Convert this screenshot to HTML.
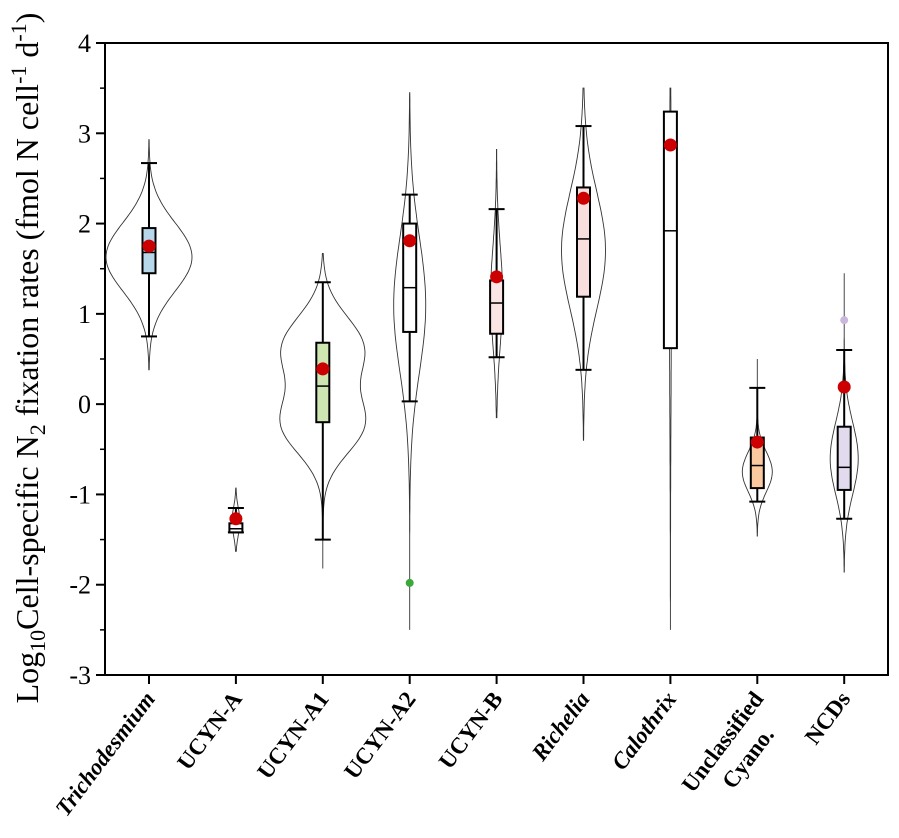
<!DOCTYPE html>
<html><head><meta charset="utf-8"><style>
body{margin:0;background:#fff}
svg text{font-family:"Liberation Serif",serif}
</style></head><body>
<svg id="c" width="899" height="833"></svg>
<script>
const categories=["Trichodesmium","UCYN-A","UCYN-A1","UCYN-A2","UCYN-B","Richelia","Calothrix","Unclassified|Cyano.","NCDs"];
const italic=[true,false,false,false,false,true,true,false,false];
const whiskLo=[0.75,-1.42,-1.5,0.03,0.52,0.38,null,-1.08,-1.27];
const whiskHi=[2.67,-1.15,1.35,2.32,2.16,3.08,null,0.18,0.6];
const q1=[1.45,-1.42,-0.2,0.8,0.78,1.19,0.62,-0.93,-0.95];
const q3=[1.95,-1.32,0.68,2.0,1.37,2.4,3.24,-0.37,-0.25];
const medians=[1.68,-1.38,0.2,1.29,1.12,1.83,1.92,-0.68,-0.7];
const means=[1.75,-1.27,0.39,1.81,1.41,2.28,2.87,-0.42,0.19];
const violinMin=[0.38,-1.63,-1.82,-2.5,-0.15,-0.4,-2.5,-1.46,-1.86];
const violinMax=[2.93,-0.93,1.67,3.45,2.82,3.5,3.5,0.5,1.45];
const violinCenters=[[1.63],[-1.3],[0.62,-0.22],[1.1],[1.2],[1.7],[1.5],[-0.75],[-0.6]];
const violinSigmas=[[0.38],[0.15],[0.35,0.33],[0.75],[0.55],[0.65],[1.5],[0.22],[0.4]];
const violinHalfWidth=[43,4,43,16,6,22,1,15,14];
const boxFill=["#b7d7ea","#ffffff","#cde6b2","#ffffff","#fbe4e4","#f9dede","#ffffff","#fbc9a0","#e2dbee"];
const outliers=[[3,-1.98,"#3aa83a"],[8,0.93,"#c9b8dc"]];
const yTicks=[-3,-2,-1,0,1,2,3,4];

const svg=document.getElementById('c');const NS="http://www.w3.org/2000/svg";
const L=105,R=888,T=43,B=675;
const y=v=>T+(4-v)*(B-T)/7;
const x=i=>149+i*86.9;
function mk(t,a,p){const e=document.createElementNS(NS,t);for(const k in a)e.setAttribute(k,a[k]);(p||svg).appendChild(e);return e;}

const fr=mk('rect',{x:L,y:T,width:R-L,height:B-T,fill:'none',stroke:'#000','stroke-width':2});


yTicks.forEach(v=>{
  const tk=mk('line',{x1:L-9,x2:L,y1:y(v),y2:y(v),stroke:'#000','stroke-width':2});
  
  
  if(v<4){const m=mk('line',{x1:L-5,x2:L,y1:y(v+0.5),y2:y(v+0.5),stroke:'#000','stroke-width':1.5});
  
  }
  const t=mk('text',{x:L-14,y:y(v)+9,'text-anchor':'end','font-size':26});t.textContent=v;
  
  
});
const yt=mk('text',{transform:'translate(38,358) rotate(-90)','text-anchor':'middle','font-size':32});
yt.innerHTML='Log<tspan font-size="22" dy="7">10</tspan><tspan dy="-7">Cell-specific N</tspan><tspan font-size="22" dy="7">2</tspan><tspan dy="-7"> fixation rates (fmol N cell</tspan><tspan font-size="22" dy="-12">-1</tspan><tspan dy="12"> d</tspan><tspan font-size="22" dy="-12">-1</tspan><tspan dy="12">)</tspan>';



categories.forEach((c,i)=>{
  const cx=x(i);
  const g=mk('g',{});
  
  
  mk('line',{x1:cx,x2:cx,y1:B,y2:B+9,stroke:'#000','stroke-width':2});
  const n=80,lo=violinMin[i],hi=violinMax[i];const dens=[];let mx=0;
  for(let k=0;k<=n;k++){const v=lo+(hi-lo)*k/n;let d=0;violinCenters[i].forEach((m,j)=>{const s=violinSigmas[i][j];d+=Math.exp(-0.5*((v-m)/s)**2);});dens.push([v,d]);if(d>mx)mx=d;}
  let pR=[],pL=[];
  dens.forEach(([v,d])=>{const w=violinHalfWidth[i]*d/mx;pR.push((cx+w).toFixed(1)+','+y(v).toFixed(1));pL.unshift((cx-w).toFixed(1)+','+y(v).toFixed(1));});
  mk('path',{d:'M'+pR.join('L')+'L'+pL.join('L')+'Z',fill:'none',stroke:'#333','stroke-width':0.9},g);
  if(whiskLo[i]!==null){
    mk('line',{x1:cx,x2:cx,y1:y(whiskLo[i]),y2:y(whiskHi[i]),stroke:'#000','stroke-width':2},g);
    [whiskLo[i],whiskHi[i]].forEach(v=>mk('line',{x1:cx-8,x2:cx+8,y1:y(v),y2:y(v),stroke:'#000','stroke-width':2},g));
  }
  mk('rect',{x:cx-6.5,y:y(q3[i]),width:13,height:y(q1[i])-y(q3[i]),fill:boxFill[i],stroke:'#000','stroke-width':2},g);
  mk('line',{x1:cx-6,x2:cx+6,y1:y(medians[i]),y2:y(medians[i]),stroke:'#000','stroke-width':1.5},g);
  const m=mk('circle',{cx:cx,cy:y(means[i]),r:6.5,fill:'#cc0000'},g);
  
  
  const parts=c.split('|');
  const t=mk('text',{transform:`translate(${cx+7},${B+24}) rotate(-53)`,'text-anchor':'end','font-size':23,'font-weight':'bold','font-style':italic[i]?'italic':'normal'});
  if(parts.length>1){t.innerHTML=`<tspan x="0" dy="0">${parts[0]}</tspan><tspan x="-22" dy="30">${parts[1]}</tspan>`;}else t.textContent=c;
  
  
});
outliers.forEach(o=>{const c=mk('circle',{cx:x(o[0]),cy:y(o[1]),r:4,fill:o[2]});

});
</script>
</body></html>
